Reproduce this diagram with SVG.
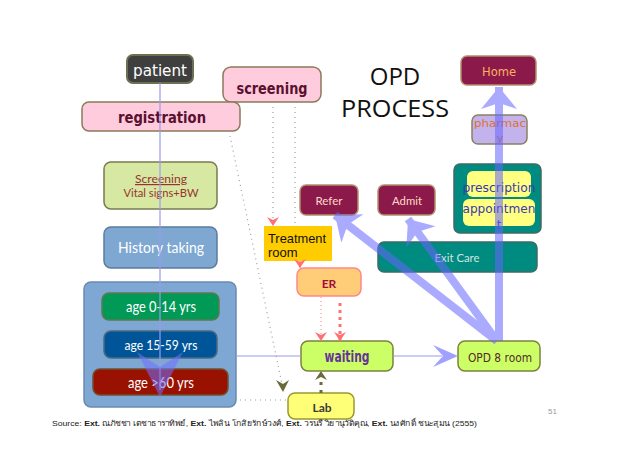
<svg xmlns="http://www.w3.org/2000/svg" width="638" height="451" viewBox="0 0 638 451">
<style>
.v{font-family:"DejaVu Sans","Liberation Sans",sans-serif;text-anchor:middle}
.c{font-family:Lato,"Open Sans","Liberation Sans",sans-serif;text-anchor:middle}
.dot{fill:none;stroke:#a0a0a0;stroke-width:1.2;stroke-dasharray:1 4}
.thin{fill:none;stroke:#9a9aee;stroke-width:1.2}
</style>
<defs>
<marker id="big" markerUnits="userSpaceOnUse" markerWidth="24" markerHeight="40" refX="22" refY="20" orient="auto" viewBox="0 0 24 40">
<path d="M0,2 L22,20 L0,38 L6,20 z" fill="#6666ff"/>
</marker>
<marker id="pink" markerUnits="userSpaceOnUse" markerWidth="10" markerHeight="12" refX="9" refY="6" orient="auto" viewBox="0 0 10 12">
<path d="M0,0 L9,6 L0,12 L3,6 z" fill="#ff7070"/>
</marker>
<marker id="olive" markerUnits="userSpaceOnUse" markerWidth="10" markerHeight="12" refX="9" refY="6" orient="auto" viewBox="0 0 10 12">
<path d="M0,0 L9,6 L0,12 L3,6 z" fill="#6b6b3a"/>
</marker>
</defs>
<rect width="638" height="451" fill="#fff"/>

<g id="title">
<text x="395" y="85" font-family="'Open Sans','Liberation Sans',sans-serif" font-size="24" text-anchor="middle" fill="#111">OPD</text>
<text x="395" y="117" font-family="'Open Sans','Liberation Sans',sans-serif" font-size="24" text-anchor="middle" fill="#111" textLength="108" lengthAdjust="spacingAndGlyphs">PROCESS</text>
</g>

<g id="patient">
<rect x="127" y="55" width="66" height="28" rx="6" fill="#3f3f3f" stroke="#6e6e50" stroke-width="2"/>
<text class="v" x="160" y="76" font-size="16" fill="#fff" textLength="54" lengthAdjust="spacingAndGlyphs">patient</text>
</g>
<g id="screening">
<rect x="223" y="67" width="98" height="35" rx="8" fill="#ffccdd" stroke="#8c7a5a" stroke-width="1.5"/>
<text class="v" x="272" y="94" font-size="16" font-weight="bold" fill="#5a1030" textLength="71" lengthAdjust="spacingAndGlyphs">screening</text>
</g>
<g id="registration">
<rect x="82" y="102" width="158" height="29" rx="7" fill="#ffccdd" stroke="#8c7a5a" stroke-width="1.5"/>
<text class="v" x="162" y="123" font-size="16" font-weight="bold" fill="#5a1030" textLength="88" lengthAdjust="spacingAndGlyphs">registration</text>
</g>
<g id="home">
<rect x="461" y="56" width="75" height="29" rx="6" fill="#8b1a4a" stroke="#b09070" stroke-width="1.5"/>
<text class="v" x="499" y="76" font-size="13" fill="#ffb060" textLength="34" lengthAdjust="spacingAndGlyphs">Home</text>
</g>
<g id="pharmacy">
<rect x="472" y="115" width="55" height="29" rx="6" fill="#c3b3ec" stroke="#8a8060" stroke-width="1.5"/>
<text class="v" x="500" y="127" font-size="11" fill="#e07030" textLength="52" lengthAdjust="spacingAndGlyphs">pharmac</text>
<text class="v" x="500" y="142" font-size="11" fill="#e07030">y</text>
</g>
<g id="prescription-group">
<rect x="454" y="164" width="87" height="69" rx="6" fill="#008b80" stroke="#3f6a66" stroke-width="1.5"/>
<rect x="467" y="171" width="64" height="26" rx="6" fill="#ffff80"/>
<rect x="463" y="199" width="72" height="27" rx="6" fill="#ffff80"/>
<text class="v" x="499" y="192" font-size="13" fill="#3a3ab0" textLength="73" lengthAdjust="spacingAndGlyphs">prescription</text>
<text class="v" x="499" y="213" font-size="13" fill="#3a3ab0" textLength="73" lengthAdjust="spacingAndGlyphs">appointmen</text>
<text class="v" x="499" y="229" font-size="12" fill="#3a3ab0">t</text>
</g>
<g id="screening-vital">
<rect x="104" y="162" width="113" height="47" rx="7" fill="#d6e8a2" stroke="#7a7a50" stroke-width="1.5"/>
<text class="c" x="161" y="183" font-size="12" fill="#993333" text-decoration="underline" textLength="52" lengthAdjust="spacingAndGlyphs">Screening</text>
<text class="c" x="161" y="197" font-size="12" fill="#993333" textLength="75" lengthAdjust="spacingAndGlyphs">Vital signs+BW</text>
</g>
<g id="history">
<rect x="104" y="227" width="113" height="41" rx="7" fill="#7ea7d2" stroke="#5b7c9e" stroke-width="1.5"/>
<text class="c" x="161" y="253" font-size="15" fill="#fff" textLength="86" lengthAdjust="spacingAndGlyphs">History taking</text>
</g>
<g id="age-group">
<rect x="84" y="282" width="152" height="125" rx="7" fill="#7ea7d4" stroke="#6a8ab0" stroke-width="1.5"/>
</g>
<g id="age-0-14">
<rect x="102" y="293" width="117" height="27" rx="7" fill="#009955" stroke="#5d7a50" stroke-width="1.5"/>
<text class="c" x="161" y="312" font-size="15" fill="#fff" textLength="70" lengthAdjust="spacingAndGlyphs">age 0-14 yrs</text>
</g>
<g id="age-15-59">
<rect x="104" y="331" width="113" height="27" rx="7" fill="#005599" stroke="#4d6a80" stroke-width="1.5"/>
<text class="c" x="161" y="350" font-size="14" fill="#fff" textLength="73" lengthAdjust="spacingAndGlyphs">age 15-59 yrs</text>
</g>
<g id="age-60">
<rect x="93" y="369" width="135" height="26" rx="7" fill="#991100" stroke="#705030" stroke-width="1.5"/>
<text class="c" x="161" y="388" font-size="16" fill="#fff" textLength="66" lengthAdjust="spacingAndGlyphs">age &gt;60 yrs</text>
</g>
<g id="treatment-room">
<rect x="264" y="226" width="68" height="35" fill="#ffcc00"/>
<text x="268" y="243" font-family="'Liberation Sans',Arial,sans-serif" font-size="13" fill="#111" textLength="58" lengthAdjust="spacingAndGlyphs">Treatment</text>
<text x="268" y="257" font-family="'Liberation Sans',Arial,sans-serif" font-size="13" fill="#111">room</text>
</g>
<g id="er">
<rect x="297" y="268" width="64" height="28" rx="7" fill="#ffcc77" stroke="#ff8888" stroke-width="1.5"/>
<text class="c" x="329" y="288" font-size="12" font-weight="bold" fill="#a0103a">ER</text>
</g>
<g id="refer">
<rect x="300" y="185" width="58" height="30" rx="6" fill="#8b1a4a" stroke="#b09070" stroke-width="1.5"/>
<text class="c" x="329" y="205" font-size="12" fill="#ffd8c8" textLength="27" lengthAdjust="spacingAndGlyphs">Refer</text>
</g>
<g id="admit">
<rect x="378" y="185" width="57" height="30" rx="6" fill="#8b1a4a" stroke="#b09070" stroke-width="1.5"/>
<text class="c" x="407" y="205" font-size="12" fill="#ffd8c8" textLength="30" lengthAdjust="spacingAndGlyphs">Admit</text>
</g>
<g id="exit-care">
<rect x="378" y="242" width="159" height="30" rx="6" fill="#008b80" stroke="#3f6a66" stroke-width="1.5"/>
<text class="c" x="457" y="262" font-size="12" fill="#d0e4e0" textLength="45" lengthAdjust="spacingAndGlyphs">Exit Care</text>
</g>
<g id="waiting">
<rect x="301" y="341" width="92" height="30" rx="7" fill="#ccff66" stroke="#7f8040" stroke-width="1.5"/>
<text class="v" x="347" y="362" font-size="15" font-weight="bold" fill="#663399" textLength="45" lengthAdjust="spacingAndGlyphs">waiting</text>
</g>
<g id="opd8">
<rect x="458" y="341" width="82" height="30" rx="7" fill="#ccff66" stroke="#7f8040" stroke-width="1.5"/>
<text class="v" x="500" y="362" font-size="13" fill="#552a2a" textLength="64" lengthAdjust="spacingAndGlyphs">OPD 8 room</text>
</g>
<g id="lab">
<rect x="288" y="393" width="66" height="26" rx="7" fill="#ffff77" stroke="#999933" stroke-width="1.5"/>
<text class="c" x="322" y="412" font-size="12" font-weight="bold" fill="#3a3a3a">Lab</text>
</g>

<g id="connectors">
<line class="thin" x1="160" y1="83" x2="160" y2="390"/>
<polygon points="137,352 160,367 183,352 160,397" fill="#7070ff" opacity="0.55"/>
<line class="thin" x1="236" y1="356" x2="301" y2="356"/>
<line class="thin" x1="393" y1="356" x2="442" y2="356"/>
<polygon points="433,345 458,356 433,367 443,356" fill="#8888ff" opacity="0.8"/>
<g opacity="0.55">
<line x1="497" y1="341" x2="335" y2="215" stroke="#6666ff" stroke-width="8" marker-end="url(#big)"/>
<line x1="497" y1="341" x2="408" y2="219" stroke="#6666ff" stroke-width="8" marker-end="url(#big)"/>
<line x1="499" y1="341" x2="499" y2="87" stroke="#6666ff" stroke-width="8" marker-end="url(#big)"/>
</g>
<line class="dot" x1="230" y1="136" x2="282" y2="384"/>
<path d="M276,380 L283,392 L289,380 L283,384 z" fill="#6b6b3a"/>
<line class="dot" x1="240" y1="400" x2="286" y2="400"/>
<line class="dot" x1="273" y1="102" x2="273" y2="226" marker-end="url(#pink)"/>
<line class="dot" x1="295" y1="102" x2="295" y2="226"/>
<line x1="300" y1="261" x2="300" y2="268" stroke="#ff7070" stroke-width="1" marker-end="url(#pink)"/>
<line x1="321" y1="297" x2="321" y2="341" stroke="#ff8080" stroke-width="1" stroke-dasharray="1 3" marker-end="url(#pink)"/>
<line x1="340" y1="303" x2="340" y2="341" stroke="#ff7070" stroke-width="3" stroke-dasharray="3 4" marker-end="url(#pink)"/>
<line x1="321" y1="393" x2="321" y2="371" stroke="#6b6b3a" stroke-width="3" stroke-dasharray="3 5" marker-end="url(#olive)"/>
</g>

<g id="footer">
<text x="548" y="414" font-family="'Liberation Sans',sans-serif" font-size="8" fill="#999">51</text>
<text x="52" y="426" font-family="'Liberation Sans','Noto Sans',sans-serif" font-size="8" fill="#222" textLength="425" lengthAdjust="spacingAndGlyphs">Source: <tspan font-weight="bold">Ext.</tspan> ณภัชชา เตชาธาราทิพย์, <tspan font-weight="bold">Ext.</tspan> ไพลิน โกสิยรักษ์วงศ์, <tspan font-weight="bold">Ext.</tspan> วรนรี วิยานุวัติคุณ, <tspan font-weight="bold">Ext.</tspan> นงศักดิ์ ชนะสุมน (2555)</text>
</g>
</svg>
